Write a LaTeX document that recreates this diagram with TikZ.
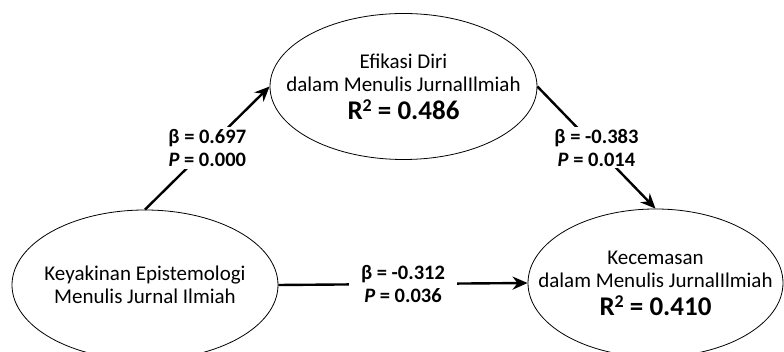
\documentclass[tikz,border=0pt]{standalone}
\usepackage{fontspec}
\setmainfont{Carlito}
\usepackage{tikz}
\usetikzlibrary{shapes.geometric, arrows.meta, positioning}
\tikzstyle{construct} = [ellipse, draw=black, line width=0.8pt, inner xsep=-30pt, inner ysep=0pt, align=center, font=\fontsize{21}{23}\selectfont]
\tikzstyle{arrow} = [line width=2.4pt, -{Stealth[length=15pt, width=13pt]}]
\tikzstyle{coef} = [fill=white, inner xsep=12pt, inner ysep=2pt, align=center, font=\fontsize{20.5}{23}\selectfont\bfseries]
\newcommand{\rsq}[1]{{\fontsize{27}{30}\selectfont\bfseries R\raisebox{0.3em}{\fontsize{18}{18}\selectfont 2} = #1}}

\begin{document}
\begin{tikzpicture}[node distance=2cm]
    \useasboundingbox (-403.5pt,86.5pt) rectangle (380.5pt,-265.5pt);

    \node[construct, minimum width=267pt, minimum height=146pt] (efikasi) {Efikasi Diri\\dalam Menulis JurnalIlmiah\\[5pt]\rsq{0.486}};
    \node[construct, minimum width=266pt, minimum height=150pt, on grid, below left=198.5pt and 258.5pt of efikasi] (keyakinan) {Keyakinan Epistemologi\\Menulis Jurnal Ilmiah};
    \node[construct, minimum width=255pt, minimum height=148pt, on grid, below right=196.5pt and 252pt of efikasi] (kecemasan) {Kecemasan\\dalam Menulis JurnalIlmiah\\[5pt]\rsq{0.410}};

    \draw[arrow] (keyakinan.north) -- node[coef] {β = 0.697\\\textit{P} = 0.000} (efikasi.west);
    \draw[arrow] (efikasi.east) -- node[coef] {β = -0.383\\\textit{P} = 0.014} (kecemasan.north);
    \draw[arrow] (keyakinan.east) -- node[coef] {β = -0.312\\\textit{P} = 0.036} (kecemasan.west);
\end{tikzpicture}
\end{document}
